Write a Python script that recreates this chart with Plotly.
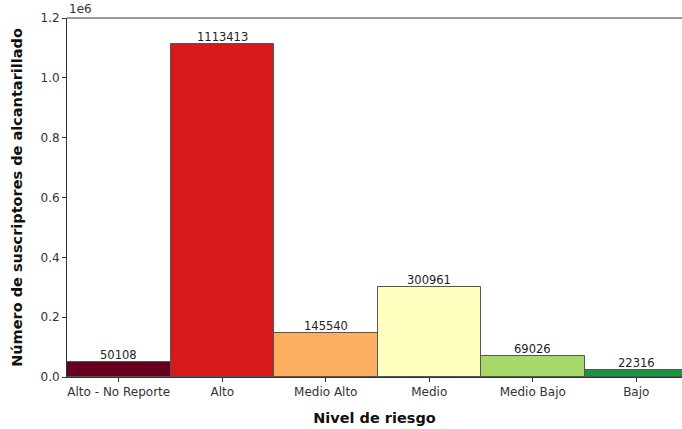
import plotly.graph_objects as go

categorias = ["Alto - No Reporte", "Alto", "Medio Alto", "Medio", "Medio Bajo", "Bajo"]
suscriptores = [50108, 1113413, 145540, 300961, 69026, 22316]
colores = ["#67001f", "#d7191c", "#fdae61", "#ffffbf", "#a6d96a", "#1a9641"]
y_ticks = [0, 200000, 400000, 600000, 800000, 1000000, 1200000]
y_tick_labels = ["0.0", "0.2", "0.4", "0.6", "0.8", "1.0", "1.2"]

x_pos = list(range(len(categorias)))

fig = go.Figure(go.Bar(
    x=x_pos,
    y=suscriptores,
    width=1.0,
    marker=dict(color=colores, line=dict(color="#555555", width=1)),
))

tick_font = dict(family="DejaVu Sans", size=12, color="#333333")
title_font = dict(family="DejaVu Sans", size=14.5, color="#111111")

# value labels sitting right on top of each bar
value_labels = [
    dict(x=xi, y=v, text=str(v), xref="x", yref="y", xanchor="center", yanchor="bottom",
         showarrow=False, borderpad=0, yshift=-1,
         font=dict(family="DejaVu Sans", size=11.5, color="#222222"))
    for xi, v in zip(x_pos, suscriptores)
]

fig.update_layout(
    width=682, height=429,
    margin=dict(l=67, r=0, t=18, b=52),
    paper_bgcolor="white", plot_bgcolor="white",
    showlegend=False,
    font=tick_font,
    bargap=0,
    xaxis=dict(
        range=[-0.5, 5.442],
        tickvals=x_pos, ticktext=categorias, tickfont=tick_font,
        ticks="outside", ticklen=4, tickcolor="#333333",
        showline=True, linecolor="#333333", linewidth=1,
        mirror=False, showgrid=False, zeroline=False,
        title=dict(text="<b>Nivel de riesgo</b>", font=title_font, standoff=14),
    ),
    yaxis=dict(
        range=[0, 1200000],
        tickvals=y_ticks, ticktext=y_tick_labels, tickfont=tick_font,
        ticks="outside", ticklen=4, tickcolor="#333333",
        showline=True, linecolor="#333333", linewidth=1,
        showgrid=False, zeroline=False,
        title=dict(text="<b>Número de suscriptores de alcantarillado</b>", font=title_font, standoff=14),
    ),
    shapes=[dict(type="line", xref="paper", yref="paper", x0=0, x1=1, y0=1, y1=1,
                 line=dict(color="#333333", width=1))],
    annotations=value_labels + [
        dict(text="1e6", xref="paper", yref="paper", x=0, y=1, xanchor="left", yanchor="bottom",
             showarrow=False, font=dict(family="DejaVu Sans", size=12, color="#333333"))
    ],
)

fig.write_html("out.html")
